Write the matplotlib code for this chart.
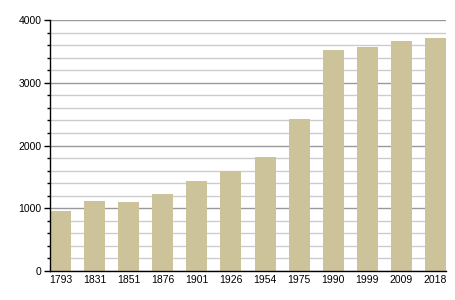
import matplotlib
matplotlib.use("Agg")
import matplotlib.pyplot as plt
from matplotlib.ticker import MultipleLocator

years = ["1793", "1831", "1851", "1876", "1901", "1926", "1954", "1975", "1990", "1999", "2009", "2018"]
population = [950, 1110, 1100, 1230, 1430, 1600, 1815, 2425, 3530, 3575, 3665, 3715]

plt.rcParams['font.family'] = ['Liberation Sans', 'DejaVu Sans']

fig = plt.figure(figsize=(4.55, 3.0), dpi=100)
ax = fig.add_axes([0.1099, 0.0983, 0.8703, 0.8334])

w = 0.616
x = list(range(len(years)))
ax.bar(x, population, width=w, color='#CCC39A', zorder=3)

ax.set_xlim(-w / 2, len(years) - 1 + w / 2)
ax.set_ylim(0, 4000)
ax.set_xticks(x)
ax.set_xticklabels(years)
ax.yaxis.set_major_locator(MultipleLocator(1000))
ax.yaxis.set_minor_locator(MultipleLocator(200))

ax.grid(which='major', axis='y', color='#999999', linewidth=1.0, zorder=1)
ax.grid(which='minor', axis='y', color='#cccccc', linewidth=1.0, zorder=1)
ax.set_axisbelow(True)

for s in ['top', 'right']:
    ax.spines[s].set_visible(False)
ax.spines['left'].set_linewidth(1.0)
ax.spines['bottom'].set_linewidth(1.0)
ax.spines['left'].set_zorder(4)
ax.spines['bottom'].set_zorder(4)

ax.tick_params(axis='x', length=0, pad=3, labelsize=7.5)
ax.tick_params(axis='y', which='major', length=4, width=1, direction='out', pad=2, labelsize=7.5)
ax.tick_params(axis='y', which='minor', length=2.5, width=1, direction='out')

fig.savefig("out.png", dpi=100)
